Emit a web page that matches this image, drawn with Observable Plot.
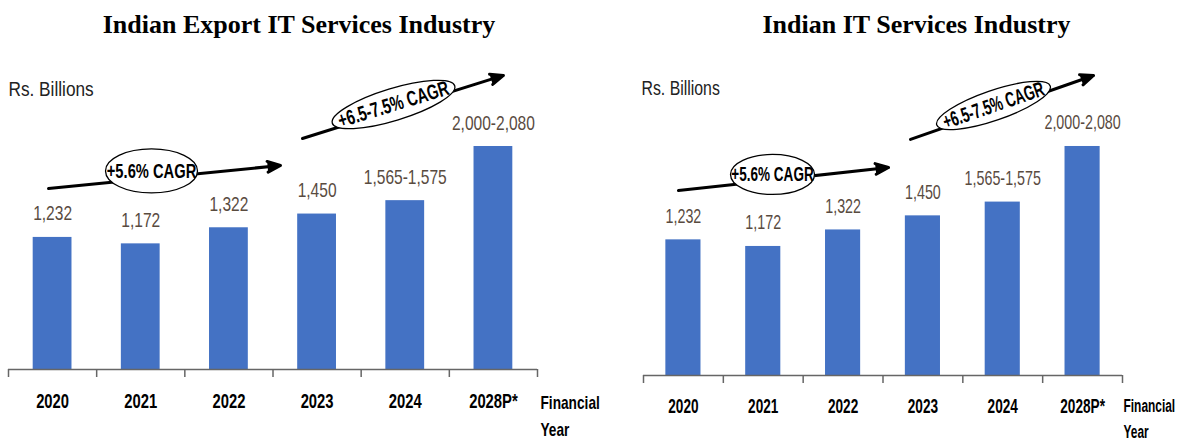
<!DOCTYPE html>
<html><head><meta charset="utf-8">
<script src="https://cdn.jsdelivr.net/npm/d3@7"></script>
<script src="https://cdn.jsdelivr.net/npm/@observablehq/plot@0.6"></script>
<style>
html,body{margin:0;padding:0;background:#fff;}
#root{position:relative;width:1183px;height:445px;overflow:hidden;background:#fff;}
.panel{position:absolute;top:0;height:445px;}
.title{font-family:"Liberation Serif","Times New Roman",serif;font-weight:bold;font-size:26px;line-height:26px;padding-top:12px;height:32px;text-align:center;white-space:nowrap;color:#000;}
.panel svg{display:block;overflow:visible;}
</style></head><body><div id="root"></div>
<script>
// ---- data ----
const years = ["2020", "2021", "2022", "2023", "2024", "2028P*"];
const exportValues = [1232, 1172, 1322, 1450, 1575, 2080];
const exportLabels = ["1,232", "1,172", "1,322", "1,450", "1,565-1,575", "2,000-2,080"];
const itValues = [1232, 1172, 1322, 1450, 1575, 2080];
const itLabels = ["1,232", "1,172", "1,322", "1,450", "1,565-1,575", "2,000-2,080"];
const cagrLabels = ["+5.6% CAGR", "+6.5-7.5% CAGR"];
const chartTitles = ["Indian Export IT Services Industry", "Indian IT Services Industry"];
const unitLabel = "Rs. Billions";
const axisName = "Financial\nYear";

const SANS = '"Liberation Sans",Arial,sans-serif';
// horizontal condensing per text role (emulates Calibri / Arial Narrow look)
const condense = {values: 0.74, ticks: 0.74, cagr: 0.70, unit: 0.82, axisname: 0.72};

function ellipseSymbol(a, b, deg) {
  const t = deg * Math.PI / 180, c = Math.cos(t), s = Math.sin(t), k = 0.5523;
  const P = (x, y) => [x * c - y * s, x * s + y * c];
  const segs = [
    [[a, k * b], [k * a, b], [0, b]],
    [[-k * a, b], [-a, k * b], [-a, 0]],
    [[-a, -k * b], [-k * a, -b], [0, -b]],
    [[k * a, -b], [a, -k * b], [a, 0]]
  ];
  return {
    draw(ctx) {
      ctx.moveTo(...P(a, 0));
      for (const [c1, c2, e] of segs) ctx.bezierCurveTo(...P(...c1), ...P(...c2), ...P(...e));
      ctx.closePath();
    }
  };
}

function makeChart(o) {
  const rows = years.map((year, i) => ({i, year, value: o.values[i], label: o.labels[i]}));
  const hw = o.barHalf;
  const marks = [
    Plot.rectY(rows, {x1: d => d.i - hw, x2: d => d.i + hw, y: "value", fill: "#4472C4"}),
    Plot.ruleY([0], {stroke: "#666", strokeWidth: 1.5}),
    Plot.axisX({ticks: d3.range(years.length + 1).map(i => i - 0.5), tickSize: o.tickLen, tickFormat: () => "", stroke: "#666", strokeWidth: 1.5, label: null}),
    Plot.axisX({ticks: d3.range(years.length), tickSize: 0, tickPadding: o.tickPad, tickFormat: i => years[i], fontSize: 20, fontWeight: "bold", fill: "#000", label: null, lineAnchor: "top", ariaDescription: "ticks"}),
    Plot.text(rows, {x: "i", y: "value", text: "label", dy: -o.labelGap, lineAnchor: "bottom", fontSize: 21, fill: "#594b3f", ariaDescription: "values"}),
    Plot.text([unitLabel], {frameAnchor: "top-left", dx: o.unitDx, dy: o.unitDy, textAnchor: "start", lineAnchor: "top", fontSize: 21, fill: "#222", ariaDescription: "unit"}),
    Plot.text([axisName], {frameAnchor: "bottom-right", dx: o.fyDx, dy: o.fyDy, textAnchor: "start", lineAnchor: "top", lineHeight: o.fyLine, fontSize: o.fyFont, fontWeight: "bold", fill: "#000", ariaDescription: "axisname"}),
    Plot.arrow(o.arrows, {x1: "x1", y1: "y1", x2: "x2", y2: "y2", stroke: "#000", fill: "#000", strokeWidth: 3, headLength: 7, headAngle: 45, strokeLinejoin: "miter"})
  ];
  o.ellipses.forEach((e, j) => {
    marks.push(Plot.dot([e], {x: "x", y: "y", r: 1, symbol: ellipseSymbol(e.rx, e.ry, e.rot), fill: "#fff", stroke: "#000", strokeWidth: 1.3}));
    marks.push(Plot.text([cagrLabels[j]], {x: () => e.x, y: () => e.y, text: d => d, rotate: e.rot, fontSize: 21, fontWeight: "bold", fill: "#000", ariaDescription: "cagr"}));
  });
  return Plot.plot({
    width: o.width, height: 401,
    marginLeft: o.ml, marginRight: o.mr, marginTop: o.mt, marginBottom: o.mb,
    x: {type: "linear", domain: [-0.5, years.length - 0.5]},
    y: {domain: [0, 2900], axis: null},
    style: {fontFamily: SANS, background: "white", overflow: "visible"},
    marks
  });
}

function narrowTexts(svg, hScale) {
  svg.querySelectorAll("text").forEach(t => {
    const g = t.closest("[aria-description]");
    const role = g ? g.getAttribute("aria-description") : null;
    const f = (condense[role] || 0.82) * hScale;
    const spans = t.querySelectorAll("tspan");
    const targets = spans.length ? Array.from(spans) : [t];
    targets.forEach(el => {
      const L = el.getComputedTextLength();
      if (L > 0) {
        el.setAttribute("textLength", (L * f).toFixed(2));
        el.setAttribute("lengthAdjust", "spacingAndGlyphs");
      }
    });
  });
}

const configs = [
  {left: 0, width: 610, titleWidth: 598, values: exportValues, labels: exportLabels, hScale: 1,
   ml: 8, mr: 73, mt: 14.1, mb: 76, barHalf: 0.22, tickLen: 8, tickPad: 24,
   labelGap: 17, unitDx: 0, unitDy: 22,
   fyDx: 3, fyDy: 20, fyLine: 1.42, fyFont: 19,
   arrows: [{x1: -0.046, y1: 1688, x2: 2.585, y2: 1903}, {x1: 2.834, y1: 2155, x2: 5.114, y2: 2743}],
   ellipses: [{x: 1.122, y: 1852, rx: 46, ry: 22, rot: 0}, {x: 3.867, y: 2472, rx: 64, ry: 16, rot: -17}]},
  {left: 620, width: 563, titleWidth: 593, values: itValues, labels: itLabels, hScale: 0.92,
   ml: 23, mr: 61, mt: 11.7, mb: 70, barHalf: 0.22, tickLen: 8, tickPad: 23,
   labelGap: 17, unitDx: -2, unitDy: 24,
   fyDx: 1, fyDy: 18, fyLine: 1.45, fyFont: 18,
   arrows: [{x1: -0.062, y1: 1680, x2: 2.569, y2: 1889}, {x1: 2.845, y1: 2144, x2: 5.137, y2: 2725}],
   ellipses: [{x: 1.116, y: 1826, rx: 42, ry: 20, rot: 0}, {x: 3.884, y: 2452, rx: 60, ry: 15, rot: -19}]}
];

const root = document.getElementById("root");
configs.forEach((c, k) => {
  const panel = document.createElement("div");
  panel.className = "panel";
  panel.style.left = c.left + "px";
  panel.style.width = c.width + "px";
  const t = document.createElement("div");
  t.className = "title";
  t.style.width = c.titleWidth + "px";
  t.textContent = chartTitles[k];
  panel.appendChild(t);
  const svg = makeChart(c);
  panel.appendChild(svg);
  root.appendChild(panel);
  narrowTexts(svg, c.hScale);
});
</script></body></html>
